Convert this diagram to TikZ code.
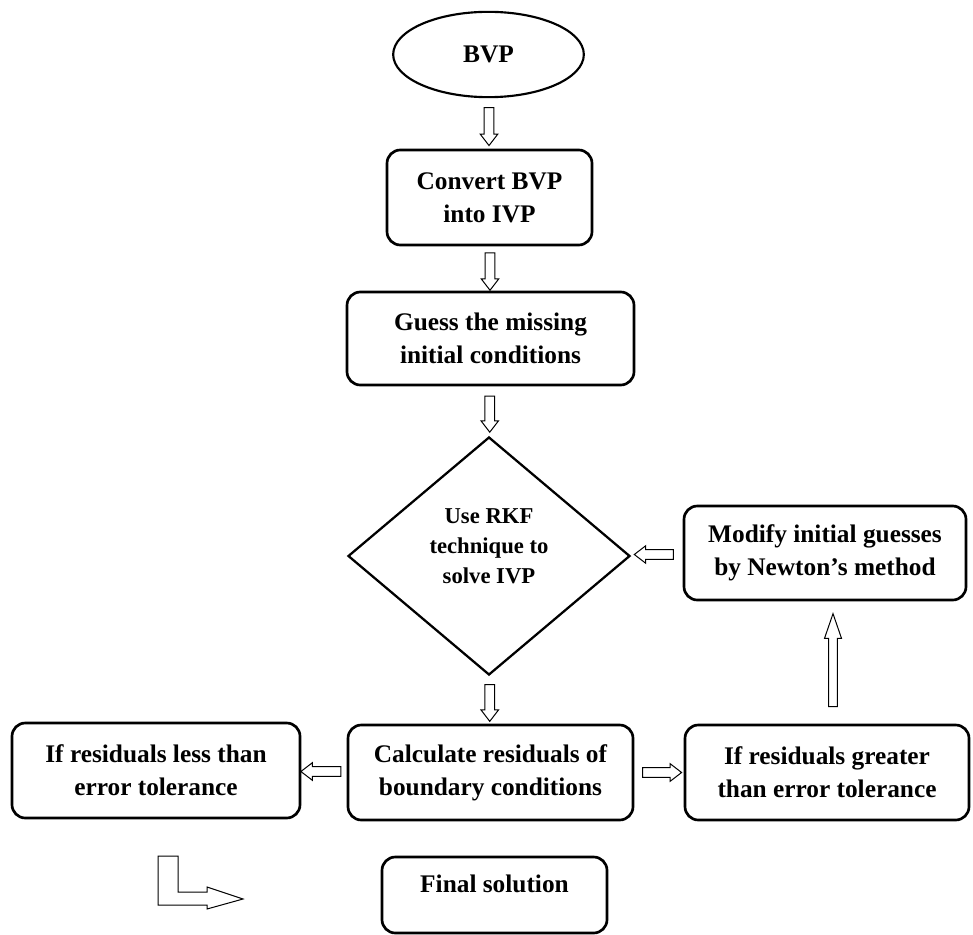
\documentclass[tikz,border=0pt]{standalone}
\usepackage{fontspec}
\setmainfont{Liberation Serif}
\usepackage{tikz}
\usetikzlibrary{positioning,calc,shapes.geometric,shapes.arrows}

\newcommand{\boxfont}{\fontsize{19}{24.75}\selectfont\bfseries}
\newcommand{\diafont}{\fontsize{17}{22.8}\selectfont\bfseries}

\tikzset{
  stepbox/.style={draw,rectangle,rounded corners=10pt,line width=2pt,align=center,font=\boxfont,minimum height=71.25pt},
  harrow/.style={draw,single arrow,line width=0.75pt,inner sep=3.2pt,minimum width=12.75pt,
    single arrow head extend=3pt,single arrow tip angle=75,single arrow head indent=0pt}
}

\begin{document}
\begin{tikzpicture}[x=0.75pt,y=-0.75pt]
  \useasboundingbox (0,0) rectangle (973,934);

  % main column
  \node[draw,ellipse,line width=1.6pt,minimum width=143pt,minimum height=64pt,font=\boxfont] (bvp) at (488.5,54.5) {BVP};
  \node[stepbox,minimum width=153.75pt] (convert) at (489.5,197.5) {Convert BVP\\into IVP};
  \node[stepbox,minimum width=215.25pt,minimum height=69.75pt] (guess) at (490.5,338.5) {Guess the missing\\initial conditions};
  \node[draw,diamond,line width=1.7pt,minimum width=211.5pt,minimum height=178.5pt,align=center,font=\diafont,text depth=15pt] (rkf) at (489,556) {Use RKF\\technique to\\solve IVP};
  \node[stepbox,minimum width=213.75pt] (calc) at (490.5,772.5) {Calculate residuals of\\boundary conditions};
  \node[stepbox,minimum width=168.75pt,minimum height=57pt,text depth=17.5pt] (final) at (494.5,895) {Final solution};

  % side boxes
  \node[stepbox,minimum width=211.5pt,minimum height=70.5pt] (modify) at (825,553) {Modify initial guesses\\by Newton’s method};
  \node[stepbox,minimum width=213pt] (greater) at (827,772.5) {If residuals greater\\than error tolerance};
  \node[stepbox,minimum width=216pt] (less) at (156,770.5) {If residuals less than\\error tolerance};

  % hollow arrows
  \node[harrow,shape border rotate=270,minimum height=28.5pt] (a1) at ($(bvp.south)!0.5!(convert.north)$) {};
  \node[harrow,shape border rotate=270,minimum height=28pt] (a2) at ($(convert.south)!0.5!(guess.north)$) {};
  \node[harrow,shape border rotate=270,minimum height=27pt] (a3) at ($(guess.south)!0.5!(rkf.north)$) {};
  \node[harrow,shape border rotate=270,minimum height=27.5pt] (a4) at ($(rkf.south)!0.5!(calc.north)$) {};
  \node[harrow,shape border rotate=180,minimum height=29.25pt] (a5) at ($(modify.west)!0.5!(rkf.east)$) {};
  \node[harrow,minimum height=29.25pt] (a6) at ($(calc.east)!0.5!(greater.west)$) {};
  \node[harrow,shape border rotate=180,minimum height=30pt] (a7) at ($(calc.west)!0.5!(less.east)$) {};
  \node[harrow,shape border rotate=90,minimum height=69.75pt,inner sep=2.8pt,single arrow tip angle=38] (a8) at ($(greater.north)!0.5!(modify.south)+(7,4)$) {};

  % bent arrow
  \draw[line width=0.75pt] (158,856) -- (178,856) -- (178,892) -- (207,892) -- (207,887)
    -- (243,899) -- (207,909) -- (207,905) -- (158,905) -- cycle;
\end{tikzpicture}
\end{document}
